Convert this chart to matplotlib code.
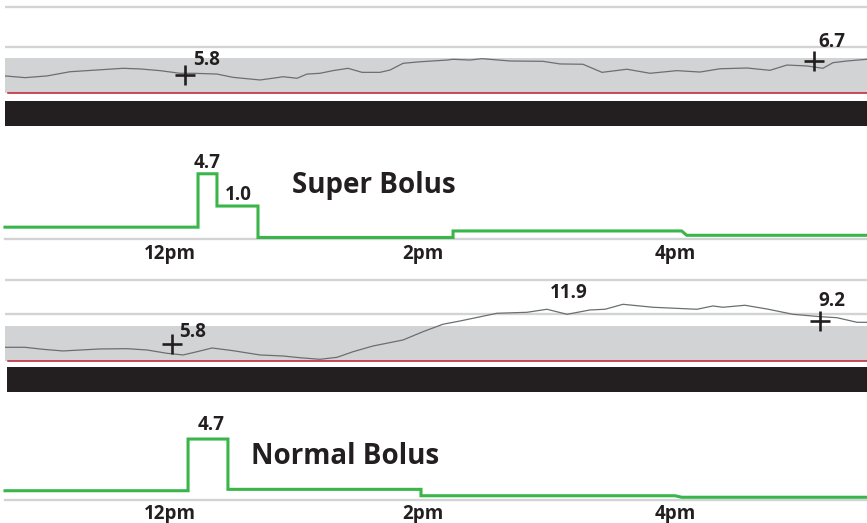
import matplotlib
matplotlib.use("Agg")
import matplotlib.pyplot as plt
from matplotlib.patches import Rectangle

plt.rcParams['font.family'] = ['Open Sans', 'DejaVu Sans']

# ---------------- data ----------------
# CGM trace, top (super bolus day): hours, mmol/L
cgm1_t = [10.693, 10.852, 11.026, 11.208, 11.343, 11.628, 11.762, 11.921, 12.079, 12.182,
          12.372, 12.499, 12.713, 12.848, 12.895, 13.006, 13.085, 13.188, 13.291, 13.410,
          13.521, 13.663, 13.743, 13.846, 13.980, 14.194, 14.242, 14.376, 14.471, 14.693,
          14.954, 15.089, 15.271, 15.422, 15.620, 15.802, 16.016, 16.198, 16.356, 16.570,
          16.752, 16.887, 17.046, 17.172, 17.251, 17.362, 17.521]
cgm1_v = [5.74, 5.63, 5.74, 6.01, 6.08, 6.23, 6.19, 6.08, 5.91, 5.91,
          5.86, 5.65, 5.48, 5.63, 5.69, 5.59, 5.86, 5.91, 6.08, 6.23,
          5.97, 5.97, 6.12, 6.55, 6.65, 6.76, 6.81, 6.76, 6.85, 6.70,
          6.68, 6.51, 6.49, 5.97, 6.17, 5.91, 6.08, 5.99, 6.20, 6.25,
          6.10, 6.44, 6.38, 6.23, 6.59, 6.70, 6.81]
cgm1_marks_t = [12.119, 17.101]
cgm1_marks_v = [5.8, 6.7]
cgm1_marks_lbl = ["5.8", "6.7"]

# CGM trace, bottom (normal bolus day)
cgm2_t = [10.693, 10.852, 10.994, 11.152, 11.446, 11.659, 11.818, 11.976, 12.103, 12.214,
          12.333, 12.499, 12.713, 12.895, 13.030, 13.188, 13.323, 13.450, 13.608, 13.846,
          14.004, 14.162, 14.297, 14.590, 14.828, 14.986, 15.145, 15.327, 15.446, 15.588,
          15.826, 16.174, 16.301, 16.380, 16.554, 16.729, 16.935, 17.149, 17.283, 17.442,
          17.521]
cgm2_v = [5.32, 5.32, 5.03, 4.79, 5.08, 5.12, 4.93, 4.45, 4.21, 4.68,
          5.22, 4.83, 4.21, 4.06, 3.81, 3.58, 3.87, 4.68, 5.51, 6.38,
          7.58, 8.66, 9.13, 10.25, 10.39, 10.83, 10.10, 10.73, 10.83, 11.55,
          11.12, 10.83, 11.31, 11.12, 11.41, 10.87, 10.10, 9.76, 9.61, 8.94,
          8.94]
cgm2_marks_t = [12.016, 17.149]
cgm2_marks_v = [5.8, 9.2]
cgm2_marks_lbl = ["5.8", "9.2"]
cgm2_peak_lbl = "11.9"

# insulin delivery (rate changes): time, rate
super_start = 0.76
super_change_t = [12.222, 12.372, 12.697, 14.242, 16.053]
super_change_v = [4.7, 2.32, 0.0, 0.48, 0.16]
super_ramp = [0, 0, 0, 0, 0.04]

normal_start = 0.58
normal_change_t = [12.143, 12.459, 13.988, 16.0]
normal_change_v = [4.7, 0.69, 0.18, 0.06]
normal_ramp = [0, 0, 0, 0.053]

tick_t = [12, 14, 16]
tick_lbl = ["12pm", "2pm", "4pm"]

# ---------------- style/layout ----------------
W, H = 867, 523
T0, T1 = 10.693, 17.521
GRAY = '#d1d3d4'
LINE = '#6d6e71'
RED = '#be1e2d'
GREEN = '#39b54a'
INK = '#231f20'
FS = 13.5

fig = plt.figure(figsize=(W / 100, H / 100), dpi=100)


def px_axes(x0, x1, ytop, ybot):
    return fig.add_axes([x0 / W, 1 - ybot / H, (x1 - x0) / W, (ybot - ytop) / H])


def step_path(start_v, ch_t, ch_v, ramp):
    xs, ys = [T0], [start_v]
    prev = start_v
    for t, v, r in zip(ch_t, ch_v, ramp):
        xs += [t, t + r]
        ys += [prev, v]
        prev = v
    xs.append(T1)
    ys.append(prev)
    return xs, ys


def cgm_panel(ax, ylim, grid, band, t, v, mt, mv, ml, offsets):
    ax.set_xlim(T0, T1)
    ax.set_ylim(*ylim)
    ax.set_axis_off()
    for g in grid:
        ax.axhline(g, color=GRAY, lw=1.7, zorder=1)
    ax.axhspan(band[0], band[1], color=GRAY, lw=0, zorder=1)
    ax.axhline(band[0], xmin=0.003, color=RED, lw=1.1, zorder=2)
    ax.plot(t, v, color=LINE, lw=0.9, zorder=3)
    ax.plot(mt, mv, ls='none', marker='+', ms=14, mew=1.9, color=INK, zorder=4)
    for x, y, s, off in zip(mt, mv, ml, offsets):
        ax.annotate(s, (x, y), xytext=off, textcoords='offset pixels',
                    ha='center', va='center', fontsize=FS, fontweight='bold', color=INK)


# top CGM
ax1 = px_axes(5, 867, 0, 100)
cgm_panel(ax1, (4.193, 10.62), [10.15, 7.62], (4.66, 6.91),
          cgm1_t, cgm1_v, cgm1_marks_t, cgm1_marks_v, cgm1_marks_lbl,
          [(22, 15), (18, 19)])

# bottom CGM
ax3 = px_axes(5, 867, 270, 366)
cgm_panel(ax3, (2.61, 16.52), [15.0, 10.2], (3.38, 8.41),
          cgm2_t, cgm2_v, cgm2_marks_t, cgm2_marks_v, cgm2_marks_lbl,
          [(21, 12), (12, 19.5)])
ax3.text(15.16, 13.19, cgm2_peak_lbl, ha='center', va='center', fontsize=FS,
         fontweight='bold', color=INK)

# black bars
fig.patches.append(Rectangle((5 / W, 1 - 126 / H), 862 / W, 25 / H, transform=fig.transFigure,
                             color=INK, lw=0))
fig.patches.append(Rectangle((7 / W, 1 - 392 / H), 860 / W, 25 / H, transform=fig.transFigure,
                             color=INK, lw=0))


def bolus_panel(ax, ylim, start, ch_t, ch_v, ramp):
    ax.set_xlim(T0, T1)
    ax.set_ylim(*ylim)
    for s in ['top', 'left', 'right']:
        ax.spines[s].set_visible(False)
    ax.spines['bottom'].set_color(GRAY)
    ax.spines['bottom'].set_linewidth(1.7)
    ax.set_yticks([])
    ax.set_xticks(tick_t)
    ax.set_xticklabels(tick_lbl, fontsize=FS, fontweight='bold', color=INK)
    ax.tick_params(axis='x', length=0, pad=3)
    ax.patch.set_alpha(0)
    xs, ys = step_path(start, ch_t, ch_v, ramp)
    ax.plot(xs, ys, color=GREEN, lw=2.2, solid_joinstyle='miter', zorder=3, clip_on=False)


ax2 = px_axes(5, 867, 130, 239.5)
bolus_panel(ax2, (-0.15, 7.93), super_start, super_change_t, super_change_v, super_ramp)
ax2.text(12.293, 5.5, "4.7", ha='center', va='center', fontsize=FS, fontweight='bold', color=INK)
ax2.text(12.539, 3.14, "1.0", ha='center', va='center', fontsize=FS, fontweight='bold', color=INK)

ax4 = px_axes(5, 867, 400, 499.7)
bolus_panel(ax4, (-0.135, 7.81), normal_start, normal_change_t, normal_change_v, normal_ramp)
ax4.text(12.325, 5.82, "4.7", ha='center', va='center', fontsize=FS, fontweight='bold', color=INK)

fig.text(374 / W, 1 - 185 / H, "Super Bolus", ha='center', va='center', fontsize=20,
         fontweight='bold', color=INK)
fig.text(345 / W, 1 - 457 / H, "Normal Bolus", ha='center', va='center', fontsize=20,
         fontweight='bold', color=INK)

fig.savefig("out.png", dpi=100)
